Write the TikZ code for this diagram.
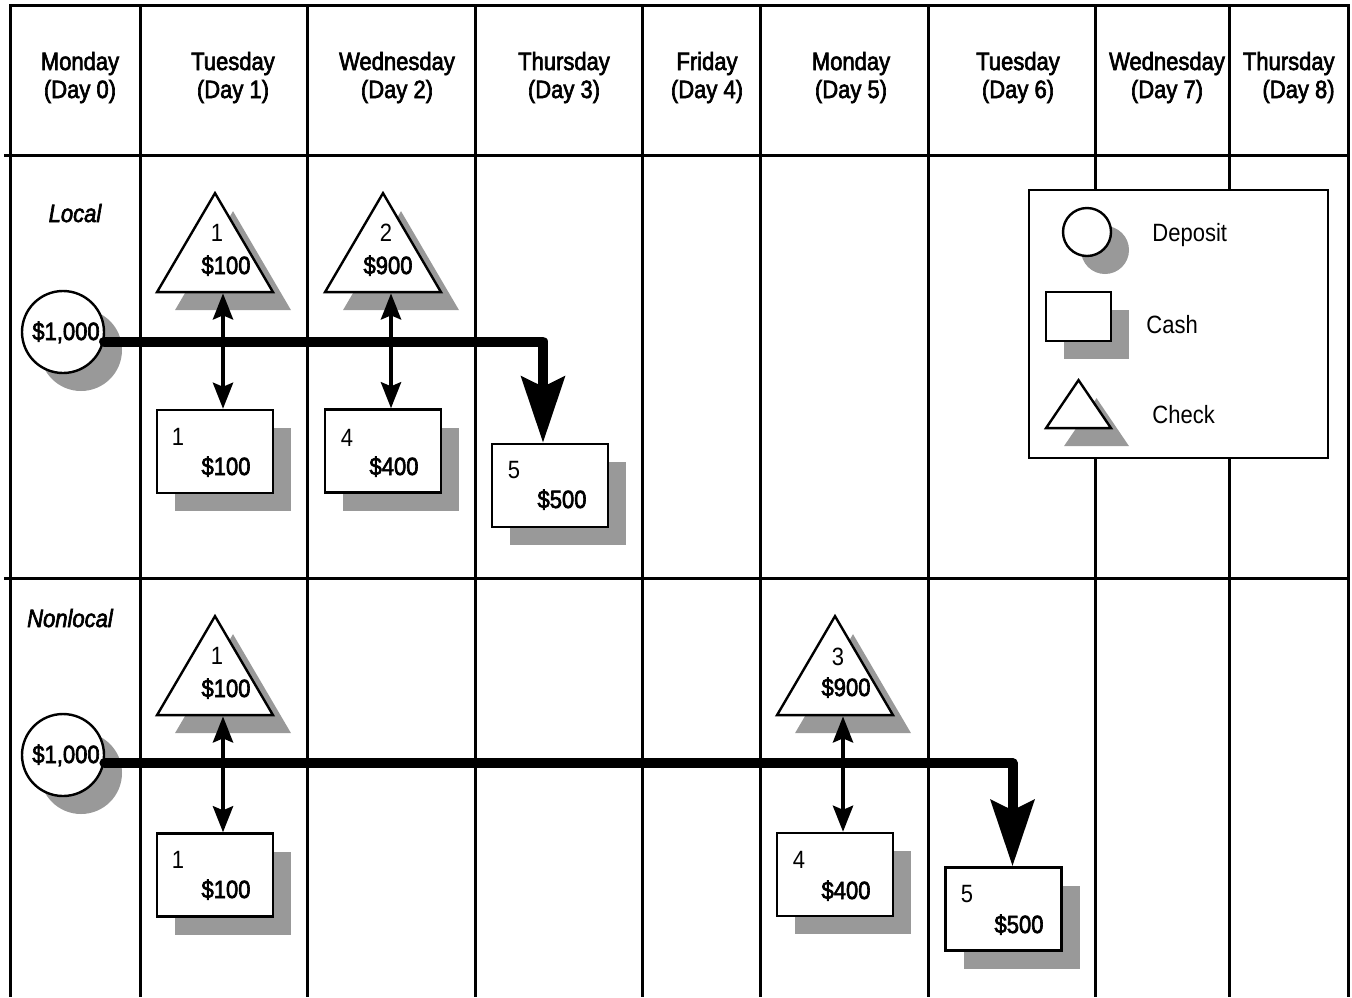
\documentclass[tikz,border=0pt]{standalone}
\usepackage{fontspec}
\setmainfont{Liberation Sans}[FakeStretch=0.88]
\newfontfamily\medfont{Liberation Sans}[FakeStretch=0.88, FakeBold=2.5]
\usetikzlibrary{shapes.geometric,shadows,arrows.meta}
\definecolor{shadowgray}{gray}{0.6}
\tikzset{
  grid line/.style={line width=1.5pt},
  dropgray/.style={drop shadow={shadow xshift=9pt, shadow yshift=-9pt, fill=shadowgray, opacity=1}},
  deposit/.style={circle, draw, line width=1.2pt, fill=white, inner sep=0pt, minimum size=41pt, dropgray},
  cash/.style={rectangle, draw, line width=1.2pt, fill=white, inner sep=0pt, minimum width=58pt, minimum height=41.5pt, dropgray},
  check/.style={isosceles triangle, isosceles triangle stretches, shape border rotate=90, draw, line width=1.2pt, fill=white, inner sep=0pt, minimum width=58pt, minimum height=49.5pt, anchor=apex, dropgray},
  twoway/.style={{Stealth[length=13pt,width=10pt,inset=2pt]}-{Stealth[length=13pt,width=10pt,inset=2pt]}, line width=2.2pt},
  flow/.style={-{Stealth[length=33pt,width=21.5pt,inset=5pt]}, line width=5pt, line cap=round, line join=round},
  txt/.style={anchor=base, inner sep=0pt},
  amount/.style={txt, font=\fontsize{12.5}{14}\medfont}
}
\begin{document}
\begin{tikzpicture}[x=0.5pt, y=-0.5pt, font=\fontsize{12.5}{14}\selectfont]
  \useasboundingbox (0,0) rectangle (1352,997);

  % grid
  \draw[grid line] (10,5) -- (1348,5) (4,155) -- (1348,155) (4,578) -- (1348,578);
  \draw[grid line] (10,4) -- (10,997) (140,4) -- (140,997) (307,4) -- (307,997)
    (475,4) -- (475,997) (642,4) -- (642,997) (760,4) -- (760,997)
    (928,4) -- (928,997) (1095,4) -- (1095,997) (1229,4) -- (1229,997)
    (1348,4) -- (1348,997);

  % days
  \node[amount, align=center] (h0) at (80,98) {Monday\\(Day 0)};
  \node[amount, align=center] (h1) at (233,98) {Tuesday\\(Day 1)};
  \node[amount, align=center] (h2) at (397,98) {Wednesday\\(Day 2)};
  \node[amount, align=center] (h3) at (564,98) {Thursday\\(Day 3)};
  \node[amount, align=center] (h4) at (707,98) {Friday\\(Day 4)};
  \node[amount, align=center] (h5) at (851,98) {Monday\\(Day 5)};
  \node[amount, align=center] (h6) at (1018,98) {Tuesday\\(Day 6)};
  \node[amount, align=center] (h7) at (1167,98) {Wednesday\\(Day 7)};
  \node[amount, align=right, anchor=base east] (h8) at (1335,98) {Thursday\\(Day 8)};

  \node[amount] (local) at (75,222) {\itshape Local};
  \node[amount] (nonlocal) at (70,627) {\itshape Nonlocal};

  % local
  \node[deposit] (d1) at (63,332) {};
  \node[amount] (d1t) at (66,340) {\$1,000};
  \node[check] (k1) at (215,190) {};
  \node[txt] (k1n) at (217,241) {1};
  \node[amount] (k1a) at (226,274) {\$100};
  \node[check] (k2) at (383,190) {};
  \node[txt] (k2n) at (386,241) {2};
  \node[amount] (k2a) at (388,274) {\$900};
  \node[cash] (c1) at (215,451.5) {};
  \node[txt] (c1n) at (178,445) {1};
  \node[amount] (c1a) at (226,475) {\$100};
  \node[cash] (c4) at (383,451) {};
  \node[txt] (c4n) at (347,446) {4};
  \node[amount] (c4a) at (394,475) {\$400};
  \node[cash] (c5) at (550,485.5) {};
  \node[txt] (c5n) at (514,478) {5};
  \node[amount] (c5a) at (562,508) {\$500};

  \draw[twoway] ([xshift=4pt]k1.south) -- ([xshift=4pt]c1.north);
  \draw[twoway] ([xshift=4pt]k2.south) -- ([xshift=4pt]c4.north);
  \draw[flow] (d1.-13) -| ([xshift=-3.5pt]c5.north);

  % nonlocal
  \node[deposit] (n1) at (63,755) {};
  \node[amount] (n1t) at (66,763) {\$1,000};
  \node[check] (m1) at (215,613) {};
  \node[txt] (m1n) at (217,664) {1};
  \node[amount] (m1a) at (226,697) {\$100};
  \node[check] (m3) at (835,613) {};
  \node[txt] (m3n) at (838,665) {3};
  \node[amount] (m3a) at (846,696) {\$900};
  \node[cash] (p1) at (215,875) {};
  \node[txt] (p1n) at (178,868) {1};
  \node[amount] (p1a) at (226,898) {\$100};
  \node[cash] (p4) at (835,874.5) {};
  \node[txt] (p4n) at (799,868) {4};
  \node[amount] (p4a) at (846,899) {\$400};
  \node[cash] (p5) at (1003.5,909) {};
  \node[txt] (p5n) at (967,902) {5};
  \node[amount] (p5a) at (1019,933) {\$500};

  \draw[twoway] ([xshift=4pt]m1.south) -- ([xshift=4pt]p1.north);
  \draw[twoway] ([xshift=4pt]m3.south) -- ([xshift=4pt]p4.north);
  \draw[flow] (n1.-11) -| ([xshift=4.5pt]p5.north);

  % legend
  \draw[line width=1.2pt, fill=white] (1029,190) rectangle (1328,458);
  \node[deposit, minimum size=24pt] (ld) at (1087,232) {};
  \node[txt, anchor=base west] (ldt) at (1152,241) {Deposit};
  \node[cash, minimum width=32.5pt, minimum height=24.5pt] (lc) at (1078.5,316.5) {};
  \node[txt, anchor=base west] (lct) at (1146,333) {Cash};
  \node[check, minimum width=32.5pt, minimum height=24pt] (lk) at (1078.5,377) {};
  \node[txt, anchor=base west] (lkt) at (1152,423) {Check};
\end{tikzpicture}
\end{document}
